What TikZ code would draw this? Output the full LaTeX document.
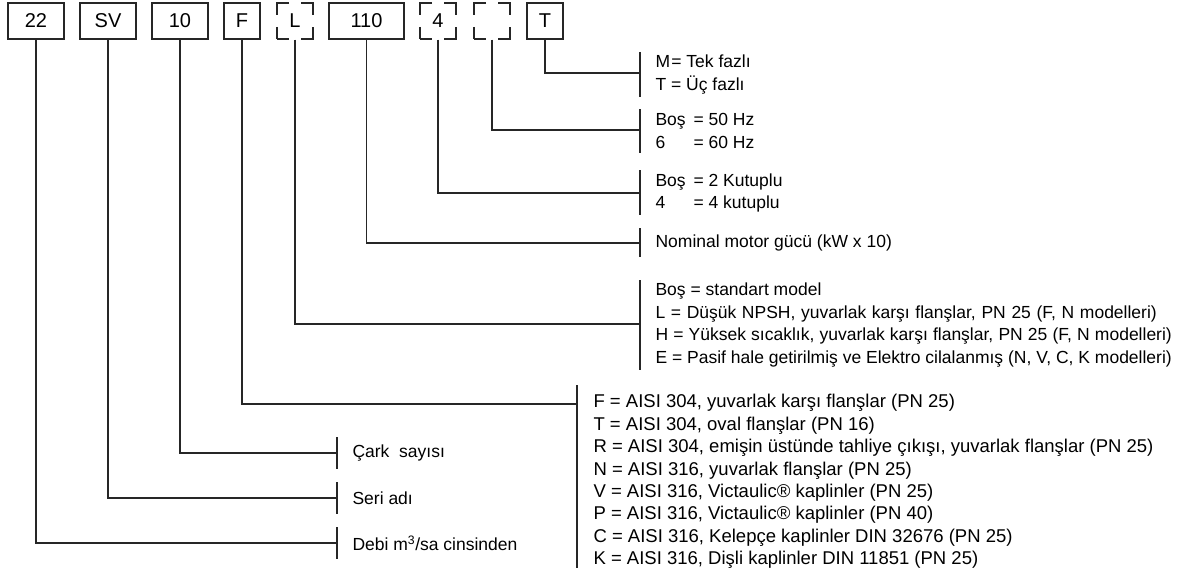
\documentclass[tikz,border=0pt]{standalone}
\usepackage{fontspec}
\setmainfont{Liberation Sans}
\newsavebox\Ebox
\newlength\Ewd
\newcommand\lblfont{\fontsize{17.5}{22.5}\selectfont}
\newcommand\flblfont{\fontsize{18.5}{22.4}\selectfont}
\begin{document}
\sbox\Ebox{\lblfont E = Pasif hale getirilmiş ve Elektro cilalanmış (N, V, C, K modelleri)}%
\setlength\Ewd{\wd\Ebox}%
\begin{tikzpicture}[x=1pt,y=-1pt,
  line width=1.1pt, draw=black!85,
  box/.style={draw, inner sep=0pt, minimum height=36pt, font=\fontsize{20}{20}\selectfont},
  dbox/.style={box, minimum width=36pt, dash pattern=on 24pt off 12pt, dash phase=12pt},
  lbl/.style={anchor=west, inner sep=0pt, align=left, font=\lblfont}]
\useasboundingbox (0,0) rectangle (1191,578);
% code boxes
\node[box, minimum width=56pt] (b22) at (36,21) {22};
\node[box, minimum width=56pt] (bSV) at (108,21) {SV};
\node[box, minimum width=56pt] (b10) at (180,21) {10};
\node[box, minimum width=36pt] (bF) at (242,21) {F};
\node[dbox] (bL) at (295,21) {L};
\node[box, minimum width=75pt] (b110) at (366.5,21) {110};
\node[dbox] (b4) at (438,21) {4};
\node[dbox] (bX) at (492,21) {};
\node[box, minimum width=36pt] (bT) at (545,21) {T};
% bracket anchor points
\coordinate (cT) at (640,73);
\coordinate (cX) at (640,130);
\coordinate (c4) at (640,193);
\coordinate (c110) at (640,243);
\coordinate (cL) at (640,324);
\coordinate (cF) at (577,404);
\coordinate (c10) at (337,453);
\coordinate (cSV) at (337,498);
\coordinate (c22) at (337,543);
% brackets
\draw (640,52) -- (640,97);
\draw (640,109) -- (640,153);
\draw (640,170) -- (640,215);
\draw (640,228) -- (640,257);
\draw (640,280) -- (640,370);
\draw (577,385) -- (577,568);
\draw (337,437) -- (337,469);
\draw (337,482) -- (337,514);
\draw (337,527) -- (337,559);
% connectors
\draw (bT.south) |- (cT);
\draw (bX.south) |- (cX);
\draw (b4.south) |- (c4);
\draw (b110.south) |- (c110);
\draw (bL.south) |- (cL);
\draw (bF.south) |- (cF);
\draw (b10.south) |- (c10);
\draw (bSV.south) |- (cSV);
\draw (b22.south) |- (c22);
% labels
\node[lbl] (tT) at (655,74.5) {\makebox[15.8pt][l]{M}= Tek fazlı\\T = Üç fazlı};
\node[lbl] (tX) at (655,131) {\makebox[38pt][l]{Boş}= 50 Hz\\\makebox[38pt][l]{6}= 60 Hz};
\node[lbl] (t4) at (655,193) {\makebox[38pt][l]{Boş}= 2 Kutuplu\\\makebox[38pt][l]{4}= 4 kutuplu};
\node[lbl] (t110) at (655,243) {Nominal motor gücü (kW x 10)};
\node[lbl] (tL) at (655,325) {Boş = standart model\\
\makebox[\dimexpr\Ewd-15pt\relax][s]{L = Düşük NPSH, yuvarlak karşı flanşlar, PN 25 (F, N modelleri)}\\
\makebox[\Ewd][s]{H = Yüksek sıcaklık, yuvarlak karşı flanşlar, PN 25 (F, N modelleri)}\\
\usebox\Ebox};
\node[lbl, font=\flblfont] (tF) at (593,481.5) {F = AISI 304, yuvarlak karşı flanşlar (PN 25)\\
T = AISI 304, oval flanşlar (PN 16)\\
R = AISI 304, emişin üstünde tahliye çıkışı, yuvarlak flanşlar (PN 25)\\
N = AISI 316, yuvarlak flanşlar (PN 25)\\
V = AISI 316, Victaulic® kaplinler (PN 25)\\
P = AISI 316, Victaulic® kaplinler (PN 40)\\
C = AISI 316, Kelepçe kaplinler DIN 32676 (PN 25)\\
K = AISI 316, Dişli kaplinler DIN 11851 (PN 25)};
\node[lbl] (t10) at (352,453) {Çark\ \ sayısı};
\node[lbl] (tSV) at (352,498) {Seri adı};
\node[lbl] (t22) at (352,543) {Debi m\textsuperscript{3}/sa cinsinden};
\end{tikzpicture}
\end{document}
